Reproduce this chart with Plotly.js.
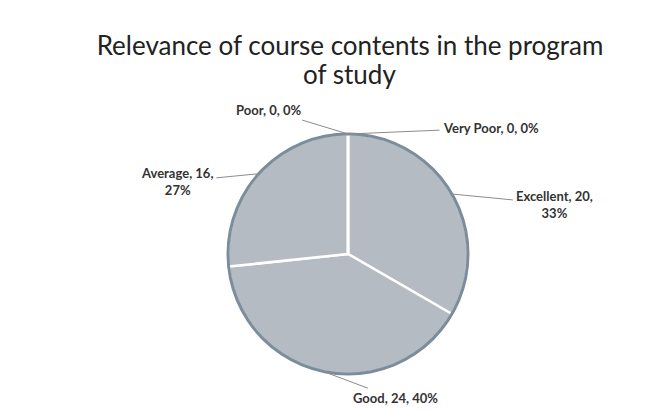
<!DOCTYPE html>
<html>
<head>
<meta charset="utf-8">
<script src="https://cdn.plot.ly/plotly-3.0.1.min.js"></script>
<style>html,body{margin:0;padding:0;background:#fff;}#chart{width:667px;height:410px;}</style>
</head>
<body>
<div id="chart"></div>
<script>
// ---- data ----
const categories = ["Excellent", "Good", "Average", "Poor", "Very Poor"];
const counts = [20, 24, 16, 0, 0];
const labelText = ["Excellent, 20,<br>33%", "Good, 24, 40%", "Average, 16,<br>27%", "Poor, 0, 0%", "Very Poor, 0, 0%"];
const titleLines = ["Relevance of course contents in the program", "of study"];

// ---- styling / layout config ----
const W = 667, H = 410;
const CX = 348, CY = 254, R = 120;
const labelOffsets = [[103, 10], [72, 27], [-82, 8], [-79, -24], [143, -6]]; // px from slice edge to label centre
const FONT = "Lato, 'Open Sans', sans-serif";

const total = counts.reduce((a, b) => a + b, 0);
function dom(r) {
  return {x: [(CX - r) / W, (CX + r) / W], y: [1 - (CY + r) / H, 1 - (CY - r) / H]};
}
const rimOut = R + 1.5, rimIn = R - 1.5;

// annotations anchored at the outer edge of each slice's mid angle (clockwise from 12 o'clock)
let cum = 0;
const annotations = counts.map((v, i) => {
  const mid = (cum + v / 2) / total * 2 * Math.PI;
  cum += v;
  const px = CX + R * Math.sin(mid);
  const py = CY - R * Math.cos(mid);
  return {
    xref: "paper", yref: "paper",
    x: px / W, y: 1 - py / H,
    ax: labelOffsets[i][0], ay: labelOffsets[i][1],
    text: "<b>" + labelText[i] + "</b>",
    showarrow: true, arrowhead: 0, arrowwidth: 1, arrowcolor: "#8c8c8c",
    standoff: 0, startstandoff: 2,
    align: "center",
    font: {family: FONT, size: 13, color: "#333333"}
  };
});
// second title line (tighter line spacing than Plotly's default title)
annotations.push({
  xref: "paper", yref: "paper", x: 350 / W, y: 1 - 74 / H,
  xanchor: "center", yanchor: "middle", showarrow: false,
  text: titleLines[1],
  font: {family: FONT, size: 26, color: "#222222"}
});

const data = [
  {
    type: "pie", labels: categories, values: counts, domain: dom(R),
    sort: false, direction: "clockwise", rotation: 0,
    marker: {colors: categories.map(() => "#b4bbc3"), line: {color: "#ffffff", width: 2.5}},
    textinfo: "none", hoverinfo: "skip", showlegend: false
  },
  {
    // dark outer rim drawn over the pie edge
    type: "pie", values: [1], labels: ["rim"], domain: dom(rimOut), hole: rimIn / rimOut,
    marker: {colors: ["#7b8c9a"], line: {width: 0}},
    textinfo: "none", hoverinfo: "skip", showlegend: false, sort: false
  }
];

const layout = {
  width: W, height: H,
  margin: {l: 0, r: 0, t: 0, b: 0},
  paper_bgcolor: "#ffffff",
  showlegend: false,
  title: {
    text: titleLines[0],
    x: 350 / W, xanchor: "center", y: 1 - 46 / H, yanchor: "middle",
    font: {family: FONT, size: 26, color: "#222222"}
  },
  annotations: annotations
};

Plotly.newPlot("chart", data, layout, {displayModeBar: false, staticPlot: true});
</script>
</body>
</html>
